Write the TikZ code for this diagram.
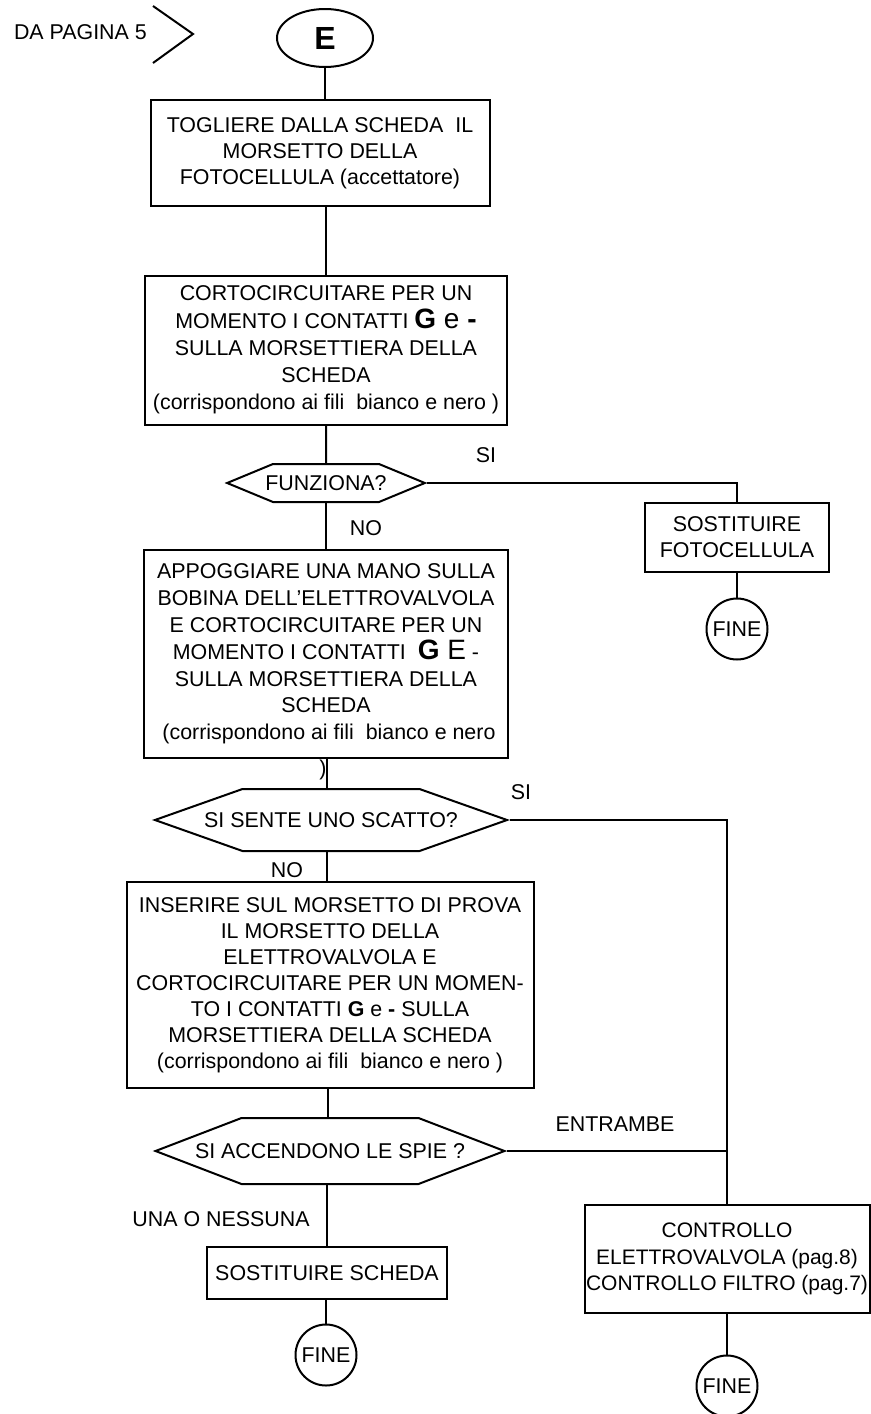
\documentclass[tikz,border=0pt]{standalone}
\usepackage{fontspec}
\setmainfont{Liberation Sans}
\usetikzlibrary{shapes.geometric, shapes.symbols}

\begin{document}
\begin{tikzpicture}[x=0.5pt, y=-0.5pt, line width=1pt,
  every node/.style={font=\fontsize{10.7}{13}\selectfont},
  azione/.style={draw, rectangle, align=center, inner sep=0pt},
  domanda/.style={draw, signal, signal to=east and west, inner sep=0pt},
  fine/.style={draw, circle, minimum size=30.5pt, inner sep=0pt},
  testo/.style={inner sep=0pt}]
  \useasboundingbox (0,0) rectangle (871,1414);

  \node[testo, anchor=west] (dapagina) at (13,32) {DA PAGINA 5};
  \draw (153,6) -- (193,34) -- (153,63);
  \node[draw, ellipse, minimum width=48pt, minimum height=29pt, inner sep=0pt, font=\fontsize{16}{16}\selectfont\bfseries] (E) at (325,38) {E};

  \node[azione, minimum width=169.5pt, minimum height=53pt] (togliere) at (320,153) {
    TOGLIERE DALLA SCHEDA\ \ IL\\MORSETTO DELLA\\FOTOCELLULA (accettatore)};
  \node[azione, minimum width=181pt, minimum height=74.5pt, font=\fontsize{10.7}{13.6}\selectfont] (corto) at (326,350) {
    CORTOCIRCUITARE PER UN\\
    MOMENTO I CONTATTI {\fontsize{14}{13.6}\selectfont\textbf{G} e \textbf{-}}\\
    SULLA MORSETTIERA DELLA\\SCHEDA\\(corrispondono ai fili\ \ bianco e nero )};
  \node[domanda, minimum height=19pt, signal pointer angle=45] (funziona) at (326,483) {\makebox[53pt]{FUNZIONA?}};

  \node[azione, minimum width=92pt, minimum height=34.5pt] (fotocellula) at (737,537) {SOSTITUIRE\\FOTOCELLULA};
  \node[fine] (fine1) at (737,629) {FINE};

  \node[azione, minimum width=182pt, minimum height=104pt, font=\fontsize{10.7}{13.4}\selectfont] (appoggiare) at (326,654) {
    APPOGGIARE UNA MANO SULLA\\BOBINA DELL’ELETTROVALVOLA\\E CORTOCIRCUITARE PER UN\\
    MOMENTO I CONTATTI\ \ {\fontsize{14}{13.4}\selectfont\textbf{G} E} -\\
    SULLA MORSETTIERA DELLA\\SCHEDA\\\ (corrispondono ai fili\ \ bianco e nero};
  \node[testo] (parentesi) at (323,770) {)};
  \node[domanda, minimum height=31pt, signal pointer angle=39] (scatto) at (331,820) {\makebox[88.5pt]{SI SENTE UNO SCATTO?}};

  \node[azione, minimum width=203.5pt, minimum height=103pt] (inserire) at (330,985) {
    INSERIRE SUL MORSETTO DI PROVA\\IL MORSETTO DELLA\\ELETTROVALVOLA E\\
    CORTOCIRCUITARE PER UN MOMEN-\\TO I CONTATTI \textbf{G} e \textbf{-} SULLA\\
    MORSETTIERA DELLA SCHEDA\\(corrispondono ai fili\ \ bianco e nero )};
  \node[domanda, minimum height=33pt, signal pointer angle=42] (spie) at (330,1151) {\makebox[88.5pt]{SI ACCENDONO LE SPIE ?}};

  \node[azione, minimum width=120pt, minimum height=26pt] (scheda) at (327,1273) {SOSTITUIRE SCHEDA};
  \node[fine] (fine2) at (326,1355) {FINE};

  \node[azione, minimum width=142.5pt, minimum height=54pt, font=\fontsize{10.5}{13.4}\selectfont] (controllo) at (727,1259) {
    CONTROLLO\\ELETTROVALVOLA (pag.8)\\CONTROLLO FILTRO (pag.7)};
  \node[fine] (fine3) at (727,1386) {FINE};

  \node[testo] (si1) at (486,455) {SI};
  \node[testo] (no1) at (366,528) {NO};
  \node[testo] (si2) at (521,792) {SI};
  \node[testo] (no2) at (287,870) {NO};
  \node[testo] (entrambe) at (615,1124) {ENTRAMBE};
  \node[testo] (nessuna) at (221,1219) {UNA O NESSUNA};

  \draw (E) -- (E |- togliere.north);
  \draw (corto) -- (corto |- togliere.south);
  \draw (funziona) -- (funziona |- corto.south);
  \draw (funziona) -- (funziona |- appoggiare.north);
  \draw (funziona.east) -| (fotocellula.north);
  \draw (fotocellula) -- (fine1);
  \draw ([xshift=-2pt]scatto.north) -- ([xshift=-2pt]scatto.north |- appoggiare.south);
  \draw ([xshift=-2pt]scatto.south) -- ([xshift=-2pt]scatto.south |- inserire.north);
  \draw (scatto.east) -| (controllo.north);
  \draw ([xshift=-1pt]spie.north) -- ([xshift=-1pt]spie.north |- inserire.south);
  \draw (spie.east) -- (spie.east -| controllo.north);
  \draw (scheda) -- (scheda |- spie.south);
  \draw (fine2) -- (fine2 |- scheda.south);
  \draw (fine3) -- (fine3 |- controllo.south);
\end{tikzpicture}
\end{document}
